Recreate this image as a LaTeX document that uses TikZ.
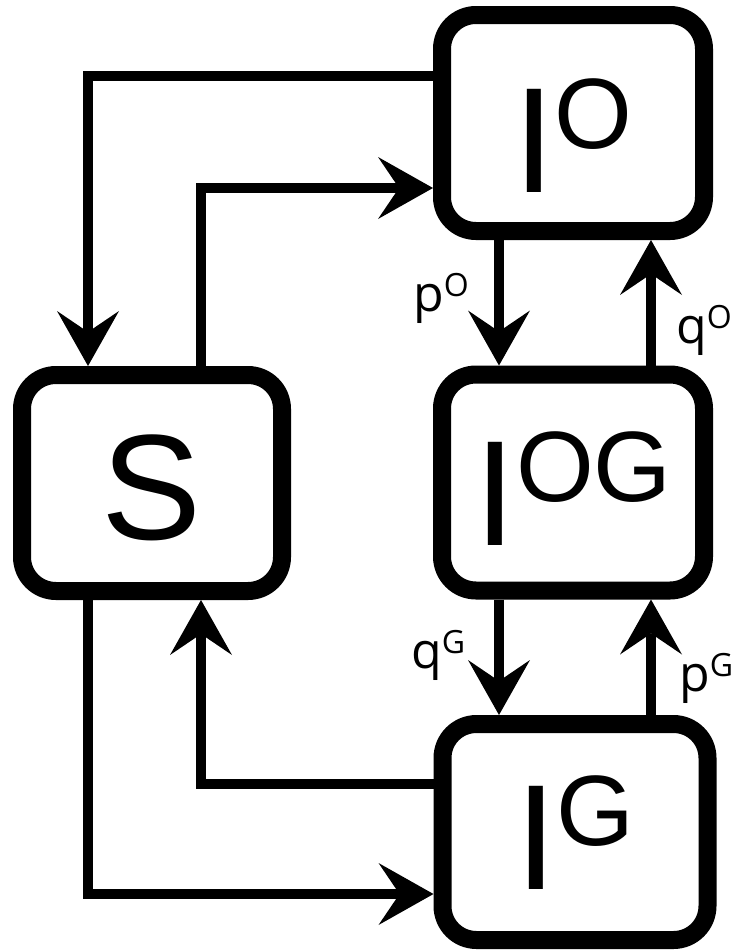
\documentclass[tikz,border=0pt]{standalone}
\usepackage{fontspec}
\setmainfont{Liberation Sans}
\newfontfamily\lblfont{Open Sans}
\usetikzlibrary{arrows.meta}

% state symbol with a raised superscript
\newcommand\statesym[2]{\fontsize{150}{150}\selectfont #1\raisebox{44pt}{\fontsize{100}{100}\selectfont #2}}
% transition rate label
\newcommand\ratelbl[2]{{\lblfont\fontsize{50}{50}\selectfont #1\raisebox{15pt}{\fontsize{32}{32}\selectfont #2}}}

\tikzset{
  statebox/.style={draw=black, line width=18pt, rounded corners=34pt,
    minimum width=262pt, minimum height=216pt, inner sep=0pt, fill=white},
  conn/.style={line width=10pt, draw=black,
    -{Stealth[length=55pt, width=62pt, inset=21pt, line width=0pt]}},
  rate/.style={anchor=base west, inner sep=0pt},
}

\begin{document}
\begin{tikzpicture}[x=1pt, y=-1pt]
\useasboundingbox (0,0) rectangle (738,951);

% compartments
\node[statebox, text height=138pt, text depth=0pt] (IO)  at (573,123)   {\statesym{I}{O}};
\node[statebox, text height=125pt, text depth=0pt] (IOG) at (573,482.5) {\statesym{I}{OG}};
\node[statebox, text height=114pt, text depth=0pt, minimum width=265pt] (IG) at (575,832) {\statesym{I}{G}};
\node[statebox, text height=112pt, text depth=0pt, minimum width=260pt] (S) at (152,483)
  {\fontsize{150}{150}\selectfont S};

% routing guides for the connectors
\coordinate (xa) at (88,0);
\coordinate (xb) at (201,0);
\coordinate (xc) at (499,0);
\coordinate (xd) at (651,0);
\coordinate (ya) at (0,76);
\coordinate (yb) at (0,188);
\coordinate (yc) at (0,784);
\coordinate (yd) at (0,894);

% outer loops through S
\draw[conn] (IO.west |- ya) -| (S.north -| xa);
\draw[conn] (S.north -| xb) |- (IO.west |- yb);
\draw[conn] (IG.west |- yc) -| (S.south -| xb);
\draw[conn] (S.south -| xa) |- (IG.west |- yd);

% transitions within the infected column
\draw[conn] (IO.south -| xc) -- (IOG.north -| xc);
\draw[conn] (IOG.north -| xd) -- (IO.south -| xd);
\draw[conn] (IOG.south -| xc) -- (IG.north -| xc);
\draw[conn] (IG.north -| xd) -- (IOG.south -| xd);

% rate labels
\node[rate] (pO) at (413,311) {\ratelbl{p}{O}};
\node[rate] (qO) at (676,343) {\ratelbl{q}{O}};
\node[rate] (qG) at (411,668) {\ratelbl{q}{G}};
\node[rate] (pG) at (679,691) {\ratelbl{p}{G}};
\end{tikzpicture}
\end{document}
